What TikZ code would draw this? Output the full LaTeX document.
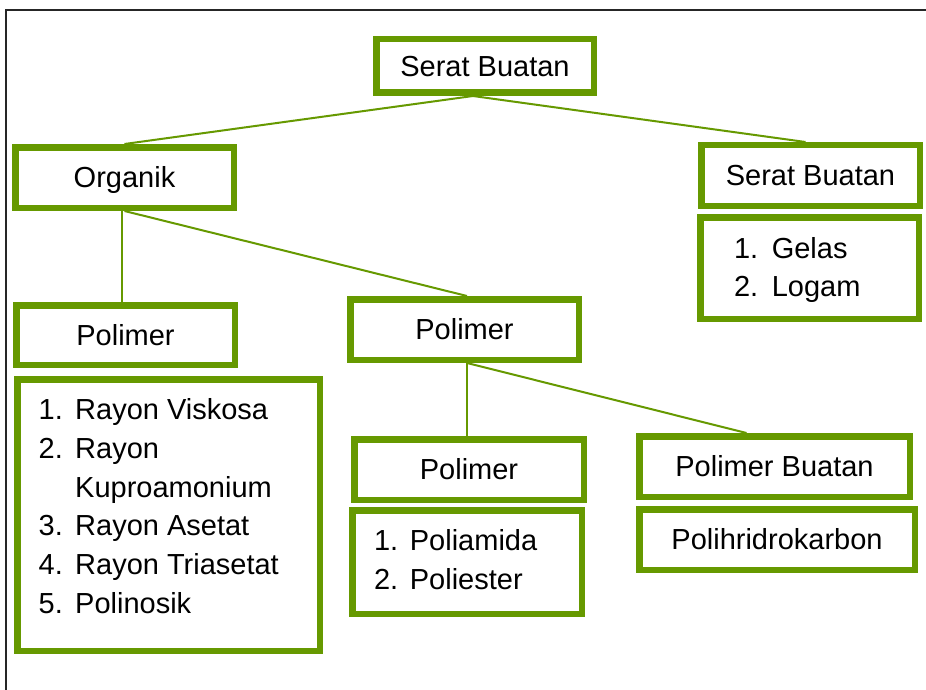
\documentclass[tikz,border=0pt]{standalone}
\usepackage{fontspec}
\setmainfont{Liberation Sans}
\definecolor{leaf}{RGB}{102,153,0}
\begin{document}
\begin{tikzpicture}[x=1pt,y=-1pt,
  box/.style={draw=leaf, line width=6.5pt, fill=white, inner sep=0pt, rectangle,
    font=\fontsize{29}{35}\selectfont, text height=20.8pt, text depth=0pt},
  link/.style={draw=leaf, line width=2pt},
  item/.style={anchor=base west, inner sep=0pt, font=\fontsize{29}{35}\selectfont},
  frame/.style={draw=black!85, line width=1.5pt}]
\useasboundingbox (0,0) rectangle (926,690);
\fill[white] (0,0) rectangle (926,690);
\draw[frame] (6,690) -- (6,10) -- (926,10);

% boxes
\node[box, minimum width=217.5pt, minimum height=53.5pt] (top) at (485,66) {Serat Buatan};
\node[box, minimum width=218.5pt, minimum height=60.5pt] (org) at (124.5,177.5) {Organik};
\node[box, minimum width=218.5pt, minimum height=60.5pt] (sbr) at (810.5,175.5) {Serat Buatan};
\node[box, minimum width=218.5pt, minimum height=101.5pt] (gl) at (809.5,268) {};
\node[box, minimum width=218.5pt, minimum height=59.5pt] (lpol) at (125.5,335) {Polimer};
\node[box, minimum width=302.5pt, minimum height=271.5pt] (ray) at (168.5,515) {};
\node[box, minimum width=228.5pt, minimum height=60.5pt] (mpol) at (464.5,329.5) {Polimer};
\node[box, minimum width=229.5pt, minimum height=60.5pt] (bpol) at (469,469.5) {Polimer};
\node[box, minimum width=229.5pt, minimum height=103.5pt] (pa) at (467,562) {};
\node[box, minimum width=270.5pt, minimum height=60.5pt] (pbu) at (774.5,466.5) {Polimer Buatan};
\node[box, minimum width=275.5pt, minimum height=60.5pt] (phk) at (777,539.5) {Polihridrokarbon};

% connectors
\draw[link] ([xshift=-12pt]top.south) -- (org.north);
\draw[link] ([xshift=-12pt]top.south) -- ([xshift=-5pt]sbr.north);
\draw[link] ([xshift=-2.5pt]org.south) -- ([xshift=-2.5pt]org.south |- lpol.north);
\draw[link] (org.south) -- ([xshift=2.5pt]mpol.north);
\draw[link] ([xshift=2.5pt]mpol.south) -- ([xshift=2.5pt]mpol.south |- bpol.north);
\draw[link] ([xshift=2.5pt]mpol.south) -- ([xshift=-28pt]pbu.north);

% list: Gelas / Logam
\node[item] (g1n) at (733.8,258) {1.};
\node[item] (g1t) at (771.6,258) {Gelas};
\node[item] (g2n) at (733.8,296.5) {2.};
\node[item] (g2t) at (771.6,296.5) {Logam};

% list: Rayon
\node[item] (r1n) at (38.5,419.5) {1.};
\node[item] (r1t) at (75,419.5) {Rayon Viskosa};
\node[item] (r2n) at (38.5,458.2) {2.};
\node[item] (r2t) at (75,458.2) {Rayon};
\node[item] (r2u) at (75,497) {Kuproamonium};
\node[item] (r3n) at (38.5,535.7) {3.};
\node[item] (r3t) at (75,535.7) {Rayon Asetat};
\node[item] (r4n) at (38.5,574.5) {4.};
\node[item] (r4t) at (75,574.5) {Rayon Triasetat};
\node[item] (r5n) at (38.5,613.2) {5.};
\node[item] (r5t) at (75,613.2) {Polinosik};

% list: Poliamida / Poliester
\node[item] (p1n) at (373.8,550.7) {1.};
\node[item] (p1t) at (409.7,550.7) {Poliamida};
\node[item] (p2n) at (373.8,589.3) {2.};
\node[item] (p2t) at (409.7,589.3) {Poliester};
\end{tikzpicture}
\end{document}
